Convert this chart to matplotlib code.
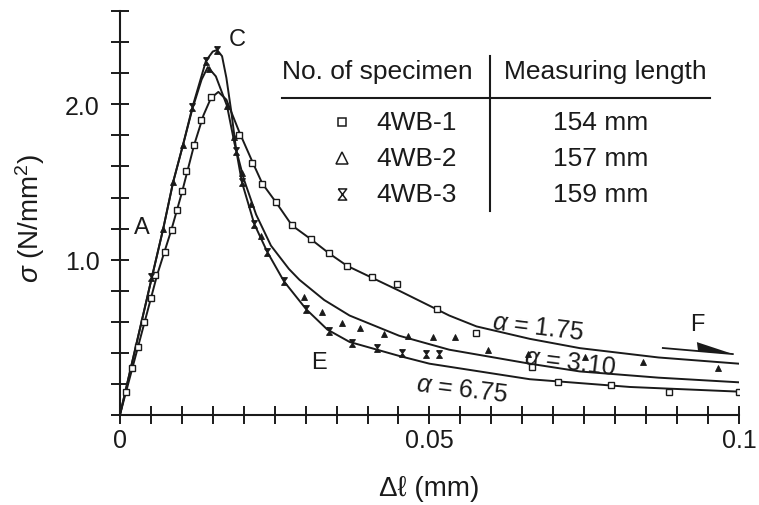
import numpy as np
import matplotlib
matplotlib.use("Agg")
import matplotlib.pyplot as plt
from matplotlib.path import Path
from matplotlib.patches import Polygon

plt.rcParams['font.family'] = ['Liberation Sans', 'DejaVu Sans']
plt.rcParams['mathtext.fontset'] = 'custom'
plt.rcParams['mathtext.it'] = 'Liberation Sans:italic'
plt.rcParams['mathtext.rm'] = 'Liberation Sans'

INK = '#1a1a1a'

# model curves: elongation (mm) vs stress (N/mm2)
curve1_x = [0, 0.0030, 0.0060, 0.0083, 0.0100, 0.0120, 0.0135, 0.0147, 0.0159, 0.0172,
            0.0193, 0.0214, 0.0230, 0.0252, 0.0278, 0.0309, 0.0338, 0.0367, 0.0451, 0.0532,
            0.0576, 0.0662, 0.0743, 0.0870, 0.1000]
curve1_y = [0, 0.45, 0.90, 1.19, 1.43, 1.74, 1.93, 2.04, 2.08, 2.03,
            1.82, 1.63, 1.49, 1.37, 1.22, 1.13, 1.04, 0.96, 0.80, 0.64,
            0.57, 0.49, 0.43, 0.37, 0.33]

curve2_x = [0, 0.0053, 0.0070, 0.0086, 0.0102, 0.0117, 0.0132, 0.0142, 0.0155, 0.0173,
            0.0185, 0.0200, 0.0220, 0.0244, 0.0273, 0.0290, 0.0330, 0.0371, 0.0451, 0.0532,
            0.0662, 0.0743, 0.0870, 0.1000]
curve2_y = [0, 0.91, 1.20, 1.50, 1.74, 1.97, 2.16, 2.24, 2.18, 1.99,
            1.75, 1.52, 1.29, 1.09, 0.94, 0.87, 0.74, 0.64, 0.51, 0.42,
            0.33, 0.28, 0.24, 0.21]

curve3_x = [0, 0.0053, 0.0070, 0.0086, 0.0102, 0.0117, 0.0139, 0.0150, 0.0157, 0.0165,
            0.0172, 0.0180, 0.0188, 0.0197, 0.0217, 0.0238, 0.0265, 0.0301, 0.0335, 0.0371,
            0.0451, 0.0500, 0.0662, 0.0824, 0.1000]
curve3_y = [0, 0.91, 1.20, 1.50, 1.74, 1.98, 2.28, 2.34, 2.35, 2.31,
            2.17, 1.95, 1.70, 1.50, 1.23, 1.05, 0.86, 0.68, 0.55, 0.47,
            0.38, 0.33, 0.23, 0.18, 0.15]

# measured points
wb1_x = [0.0010, 0.0019, 0.0029, 0.0039, 0.0050, 0.0057, 0.0073, 0.0084, 0.0092, 0.0100,
         0.0107, 0.0120, 0.0131, 0.0147, 0.0193, 0.0214, 0.0230, 0.0252, 0.0278, 0.0309,
         0.0338, 0.0367, 0.0408, 0.0447, 0.0513, 0.0576, 0.0665, 0.0707, 0.0793, 0.0887, 0.1000]
wb1_y = [0.15, 0.30, 0.44, 0.60, 0.75, 0.90, 1.05, 1.19, 1.32, 1.44,
         1.57, 1.74, 1.90, 2.05, 1.80, 1.62, 1.49, 1.37, 1.22, 1.13,
         1.04, 0.96, 0.89, 0.84, 0.68, 0.53, 0.31, 0.21, 0.19, 0.15, 0.15]

wb2_x = [0.0070, 0.0086, 0.0102, 0.0144, 0.0173, 0.0184, 0.0197, 0.0212, 0.0228, 0.0298,
         0.0327, 0.0358, 0.0388, 0.0427, 0.0466, 0.0505, 0.0542, 0.0594, 0.0659, 0.0751,
         0.0845, 0.0966]
wb2_y = [1.20, 1.50, 1.74, 2.23, 1.99, 1.79, 1.56, 1.36, 1.15, 0.76,
         0.66, 0.59, 0.56, 0.52, 0.51, 0.50, 0.50, 0.42, 0.39, 0.37,
         0.34, 0.30]

wb3_x = [0.0050, 0.0117, 0.0139, 0.0157, 0.0188, 0.0197, 0.0217, 0.0238, 0.0265, 0.0301,
         0.0337, 0.0375, 0.0416, 0.0455, 0.0495, 0.0516]
wb3_y = [0.89, 1.98, 2.28, 2.35, 1.70, 1.50, 1.23, 1.05, 0.86, 0.68,
         0.54, 0.46, 0.43, 0.40, 0.39, 0.39]

specimens = ['4WB-1', '4WB-2', '4WB-3']
lengths = ['154 mm', '157 mm', '159 mm']
alphas = ['1.75', '3.10', '6.75']

# hourglass marker (a bit taller than wide)
hourglass = Path([(-0.75, 1), (0.75, 1), (-0.75, -1), (0.75, -1), (-0.75, 1)])

fig = plt.figure(figsize=(7.59, 5.06), dpi=100)
ax = fig.add_axes([0.158, 0.178, 0.8156, 0.798])

for cx, cy in [(curve1_x, curve1_y), (curve2_x, curve2_y), (curve3_x, curve3_y)]:
    ax.plot(cx, cy, color=INK, lw=1.4, zorder=2)

ax.plot(wb1_x, wb1_y, 's', ms=4.8, mfc='white', mec=INK, mew=1.0, zorder=3)
ax.plot(wb2_x, wb2_y, '^', ms=4.5, mfc=INK, mec=INK, mew=0.6, zorder=3)
ax.plot(wb3_x, wb3_y, marker=hourglass, ls='none', ms=5.5, mfc=INK, mec=INK, mew=0.8, zorder=3)

ax.set_xlim(0, 0.1)
ax.set_ylim(0, 2.6)
for s in ['top', 'right']:
    ax.spines[s].set_visible(False)
for s in ['left', 'bottom']:
    ax.spines[s].set_linewidth(1.5)
    ax.spines[s].set_color(INK)

ax.set_xticks([0, 0.05, 0.1])
ax.set_xticklabels(['0', '0.05', '0.1'])
ax.set_xticks(np.arange(0, 0.1001, 0.005), minor=True)
ax.set_yticks([1.0, 2.0])
ax.set_yticklabels(['1.0', '2.0'])
ax.set_yticks(np.arange(0, 2.61, 0.2), minor=True)
ax.tick_params(which='both', direction='inout', length=13, width=1.4, color=INK,
               labelsize=18, labelcolor=INK)
ax.tick_params(axis='x', pad=3)
ax.tick_params(axis='y', pad=8)

ax.set_xlabel('Δℓ (mm)', fontsize=20, color=INK)
ax.set_ylabel(r'$\sigma$ (N/mm$^2$)', fontsize=20, color=INK)
ax.xaxis.set_label_coords(0.5, -0.148)
ax.yaxis.set_label_coords(-0.117, 0.49)

# point labels
ax.text(0.0036, 1.21, 'A', fontsize=17, color=INK, ha='center', va='center')
ax.text(0.0189, 2.42, 'C', fontsize=17, color=INK, ha='center', va='center')
ax.text(0.0322, 0.34, 'E', fontsize=17, color=INK, ha='center', va='center')
ax.text(0.0932, 0.585, 'F', fontsize=17, color=INK, ha='center', va='center')

# softening parameter labels
alpha_pos = [(0.0676, 0.566), (0.0727, 0.34), (0.0552, 0.17)]
for a, (tx, ty) in zip(alphas, alpha_pos):
    ax.text(tx, ty, r'$\alpha$ = ' + a, fontsize=18, color=INK, ha='center', va='center',
            rotation=-7, rotation_mode='anchor')

# arrow towards F
ax.plot([0.0877, 0.0990], [0.431, 0.392], color=INK, lw=1.3)
ax.add_patch(Polygon([(0.0932, 0.469), (0.0934, 0.410), (0.0992, 0.390)],
                     closed=True, color=INK, lw=0))

# specimen table
tr = ax.transAxes
ax.text(0.416, 0.851, 'No. of specimen', transform=tr, fontsize=19, color=INK,
        ha='center', va='center')
ax.text(0.784, 0.851, 'Measuring length', transform=tr, fontsize=19, color=INK,
        ha='center', va='center')
ax.plot([0.262, 0.953], [0.785, 0.785], transform=tr, color=INK, lw=1.5, clip_on=False)
ax.plot([0.598, 0.598], [0.505, 0.889], transform=tr, color=INK, lw=1.5, clip_on=False)

row_y = [0.725, 0.636, 0.547]
row_marker = [dict(marker='s', ms=6), dict(marker='^', ms=8), dict(marker=hourglass, ms=8)]
for name, length, ry, mk in zip(specimens, lengths, row_y, row_marker):
    ax.plot([0.359], [ry], ls='none', mfc='white', mec=INK, mew=1.1, transform=tr, **mk)
    ax.text(0.415, ry, name, transform=tr, fontsize=19, color=INK, ha='left', va='center')
    ax.text(0.777, ry, length, transform=tr, fontsize=19, color=INK, ha='center', va='center')

fig.savefig('out.png', dpi=100)
